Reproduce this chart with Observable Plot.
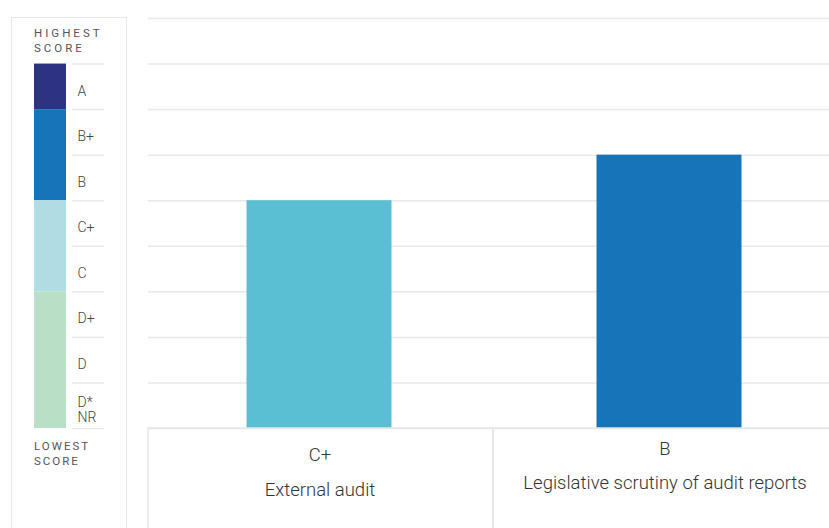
<!DOCTYPE html>
<html>
<head>
<meta charset="utf-8">
<script src="https://cdn.jsdelivr.net/npm/d3@7"></script>
<script src="https://cdn.jsdelivr.net/npm/@observablehq/plot@0.6"></script>
<style>
  html, body { margin: 0; padding: 0; background: #fff; }
  body { width: 829px; height: 528px; overflow: hidden; position: relative; font-family: Roboto, "Noto Sans", sans-serif; }
  .abs { position: absolute; }
  svg { max-width: none !important; }
  #legendBox { left: 11px; top: 17px; width: 114px; height: 520px; border: 1.5px solid #e8e8e8; }
  .cap { font-size: 11.5px; color: #555; line-height: 15px; font-weight: 400; }
  #hi { left: 34px; top: 26px; letter-spacing: 3px; }
  #lo { left: 34px; top: 439px; letter-spacing: 2px; }
  svg text { font-family: Roboto, "Noto Sans", sans-serif; }
</style>
</head>
<body>
<div id="legendBox" class="abs"></div>
<div id="hi" class="abs cap">HIGHEST<br>SCORE</div>
<div id="lo" class="abs cap">LOWEST<br>SCORE</div>
<div id="legend" class="abs" style="left:0;top:0;width:148px"></div>
<div id="main" class="abs" style="left:148px;top:0;width:690px"></div>
<div id="table" class="abs" style="left:148px;top:428px;width:690px"></div>
<script>
// ---- data ----
const indicators = ["External audit", "Legislative scrutiny of audit reports"];
const grades = ["C+", "B"];
const scores = [5, 6]; // position on the 0–9 grade ladder
const yTicks = [0, 1, 2, 3, 4, 5, 6, 7, 8, 9];
const ladderLabels = ["D*\nNR", "D", "D+", "C", "C+", "B", "B+", "A"];
const ladderSteps = [0.5, 1.5, 2.5, 3.5, 4.5, 5.5, 6.5, 7.5];
const ladderBoundaries = [0, 1, 2, 3, 4, 5, 6, 7, 8];
const groupNames = ["A", "B", "C", "D"];
const groupFrom = [7, 5, 3, 0];
const groupTo = [8, 7, 5, 3];

const rows = indicators.map((name, i) => ({name, grade: grades[i], score: scores[i]}));
const groups = groupNames.map((g, i) => ({group: g, from: groupFrom[i], to: groupTo[i]}));
const ladder = ladderLabels.map((label, i) => ({label, step: ladderSteps[i]}));

// ---- legend ----
const legend = Plot.plot({
  width: 148, height: 528,
  marginTop: 18, marginBottom: 100, marginLeft: 0, marginRight: 0,
  x: {domain: ["swatch", "label"], range: [34, 105], paddingInner: 0.156, paddingOuter: 0, axis: null},
  y: {domain: [0, 9], axis: null},
  color: {domain: groupNames, range: ["#2e3282", "#1874b8", "#afdde3", "#b9dfc6"]},
  style: {background: "transparent"},
  marks: [
    Plot.barY(groups, {x: () => "swatch", y1: "from", y2: "to", fill: "group"}),
    Plot.tickY(ladderBoundaries, {x: () => "label", y: d => d, stroke: "#e8e8e8", strokeWidth: 1.5}),
    Plot.text(ladder, {x: () => "label", y: "step", text: "label", textAnchor: "start", dx: -11, dy: 4,
      fontSize: 14, fontWeight: 300, fill: "#444", lineHeight: 1.05})
  ]
});
document.getElementById("legend").append(legend);

// ---- main chart ----
const main = Plot.plot({
  width: 690, height: 528,
  marginTop: 18, marginBottom: 100, marginLeft: 0, marginRight: 0,
  x: {domain: indicators, range: [-4.5, 695.5], padding: 0, axis: null},
  y: {domain: [0, 9], axis: null},
  color: {domain: grades, range: ["#5abfd3", "#1774b8"]},
  style: {background: "transparent"},
  marks: [
    Plot.ruleY(yTicks, {stroke: "#e8e8e8", strokeWidth: 1.5}),
    Plot.barY(rows, {x: "name", y: "score", fill: "grade", insetLeft: 102.5, insetRight: 102.5})
  ]
});
document.getElementById("main").append(main);

// ---- label table under the axis ----
const table = Plot.plot({
  width: 690, height: 106,
  margin: 0,
  x: {domain: indicators, padding: 0, axis: null},
  style: {background: "transparent", overflow: "visible"},
  marks: [
    Plot.cell(rows, {x: "name", fill: "none", stroke: "#e6e6e6", strokeWidth: 1.5}),
    Plot.text(rows.slice(0, 1), {x: "name", frameAnchor: "top", dy: 27, dx: -1, text: "grade", fontSize: 18.5, fontWeight: 300, fill: "#333", lineAnchor: "middle"}),
    Plot.text(rows.slice(0, 1), {x: "name", frameAnchor: "top", dy: 62, dx: -1, text: "name", fontSize: 18.5, fontWeight: 300, fill: "#333", lineAnchor: "middle"}),
    Plot.text(rows.slice(1), {x: "name", frameAnchor: "top", dy: 21, dx: -1, text: "grade", fontSize: 18.5, fontWeight: 300, fill: "#333", lineAnchor: "middle"}),
    Plot.text(rows.slice(1), {x: "name", frameAnchor: "top", dy: 55, dx: -1, text: "name", fontSize: 18.5, fontWeight: 300, fill: "#333", lineAnchor: "middle"})
  ]
});
document.getElementById("table").append(table);
</script>
</body>
</html>
